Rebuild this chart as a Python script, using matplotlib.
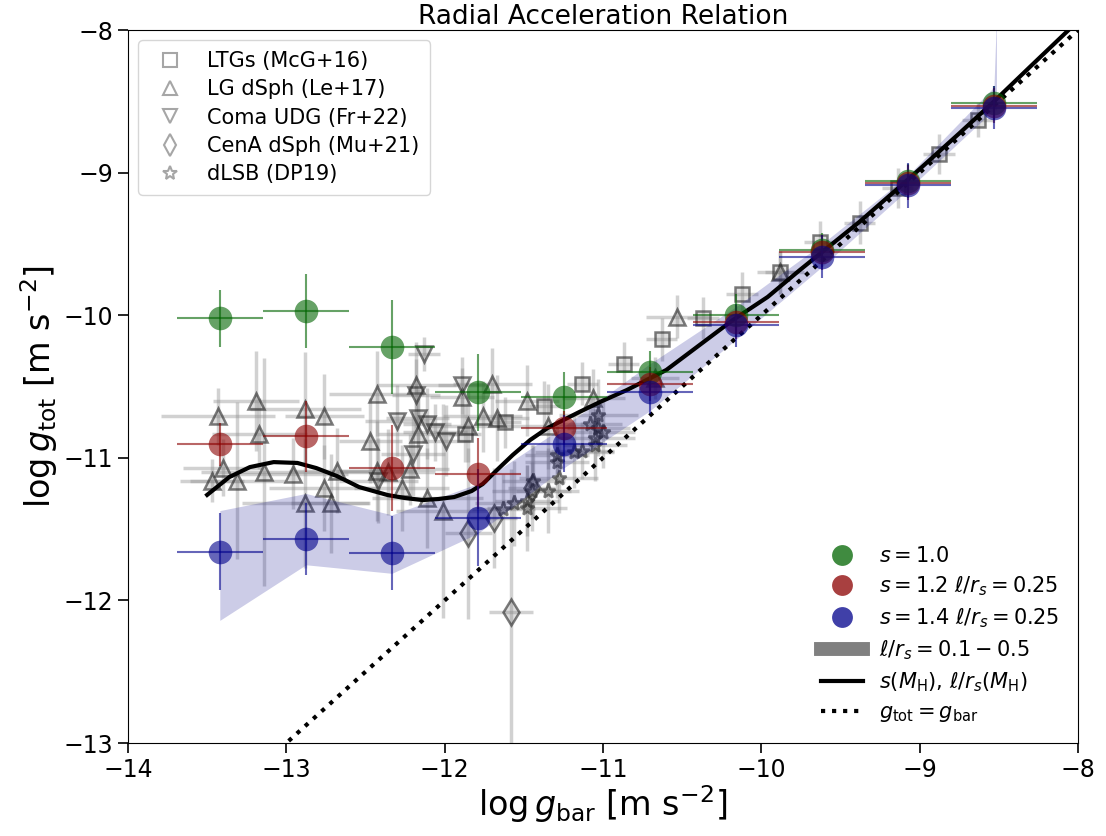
import matplotlib
matplotlib.use('Agg')
import matplotlib.pyplot as plt
from matplotlib.lines import Line2D

# bin centres of the model points
bins = [-13.42, -12.876, -12.333, -11.79, -11.247, -10.704, -10.16, -9.617, -9.074, -8.531]
bin_xerr = 0.27

g_s10 = [-10.02, -9.97, -10.22, -10.54, -10.57, -10.40, -10.00, -9.54, -9.06, -8.51]
g_s10_err = [0.20, 0.26, 0.33, 0.27, 0.17, 0.15, 0.15, 0.12, 0.12, 0.12]
g_s12 = [-10.905, -10.85, -11.07, -11.11, -10.79, -10.48, -10.05, -9.56, -9.07, -8.53]
g_s12_err = [0.15, 0.25, 0.30, 0.25, 0.12, 0.12, 0.12, 0.12, 0.12, 0.12]
g_s14 = [-11.66, -11.57, -11.67, -11.42, -10.90, -10.54, -10.07, -9.59, -9.09, -8.545]
g_s14_err = [0.27, 0.25, 0.26, 0.34, 0.20, 0.15, 0.15, 0.15, 0.16, 0.15]

# l/rs = 0.1 - 0.5 band for s = 1.4
band_x = bins + [-8.515]
band_lo = [-12.14, -11.75, -11.81, -11.53, -11.07, -10.67, -10.17, -9.66, -9.12, -8.56, -8.56]
band_hi = [-11.37, -11.25, -11.40, -11.18, -10.78, -10.34, -9.94, -9.50, -9.02, -8.40, -7.90]

# s(M_H), l/rs(M_H) curve
curve_x = [-13.50, -13.36, -13.23, -13.08, -12.93, -12.81, -12.68, -12.54, -12.36, -12.25,
           -12.14, -12.04, -11.94, -11.83, -11.76, -11.67, -11.57, -11.46, -11.35, -11.25,
           -11.15, -11.02, -10.85, -10.60, -10.39, -10.18, -9.96, -9.76, -9.38, -9.08,
           -8.75, -8.53, -8.30, -8.05]
curve_y = [-11.26, -11.135, -11.065, -11.03, -11.036, -11.072, -11.128, -11.205, -11.261, -11.282,
           -11.296, -11.289, -11.275, -11.233, -11.184, -11.086, -10.98, -10.875, -10.791, -10.735,
           -10.679, -10.609, -10.525, -10.384, -10.209, -10.034, -9.872, -9.686, -9.345, -9.055,
           -8.725, -8.50, -8.255, -7.99]

# LTGs (McGaugh+16)
ltg_x = [-8.63, -8.88, -9.14, -9.38, -9.63, -9.88, -10.12, -10.37, -10.63, -10.87, -11.13, -11.37, -11.62, -11.87]
ltg_y = [-8.63, -8.87, -9.11, -9.35, -9.49, -9.70, -9.85, -10.02, -10.17, -10.34, -10.48, -10.64, -10.75, -10.83]
ltg_xerr = [0.10] * 14
ltg_yerr = [0.12, 0.14, 0.14, 0.15, 0.15, 0.15, 0.15, 0.15, 0.15, 0.15, 0.15, 0.18, 0.18, 0.20]

# LG dSph (Lelli+17)
lg_x = [-13.43, -13.19, -13.17, -12.88, -12.76, -13.40, -13.47, -13.31, -13.14, -12.96,
        -12.68, -12.76, -12.88, -12.72, -12.43, -12.47, -12.43, -12.36, -12.22, -12.27,
        -12.11, -12.01, -12.18, -11.89, -11.85, -11.76, -11.67, -11.70, -12.17, -11.48,
        -11.35, -11.06, -10.53, -9.88, -10.67]
lg_y = [-10.71, -10.60, -10.83, -10.66, -10.71, -11.07, -11.16, -11.16, -11.10, -11.11,
        -11.09, -11.21, -11.32, -11.32, -10.55, -10.88, -11.09, -11.10, -11.08, -11.21,
        -11.28, -11.37, -10.49, -10.57, -10.78, -10.71, -10.72, -10.48, -10.83, -10.60,
        -10.78, -10.58, -10.01, -9.70, -10.44]
lg_xerr = [0.36, 0.27, 0.30, 0.35, 0.25, 0.25, 0.20, 0.30, 0.40, 0.35,
           0.30, 0.35, 0.40, 0.25, 0.30, 0.20, 0.25, 0.30, 0.25, 0.30,
           0.35, 0.30, 0.25, 0.20, 0.25, 0.25, 0.20, 0.25, 0.25, 0.20,
           0.25, 0.20, 0.20, 0.15, 0.15]
lg_yerr = [0.20, 0.35, 0.25, 0.40, 0.30, 0.20, 0.15, 0.55, 0.80, 0.25,
           0.30, 0.30, 0.45, 0.35, 0.30, 0.30, 0.35, 0.30, 0.25, 0.30,
           0.35, 0.75, 0.30, 0.20, 0.25, 0.25, 0.30, 0.25, 0.25, 0.25,
           0.30, 0.20, 0.15, 0.15, 0.15]

# Coma UDG (Freundlich+22)
udg_x = [-12.13, -11.89, -12.18, -12.30, -12.17, -12.11, -12.06, -11.99, -12.20, -12.42]
udg_y = [-10.27, -10.49, -10.56, -10.74, -10.72, -10.76, -10.82, -10.88, -10.97, -11.16]
udg_xerr = [0.10, 0.15, 0.15, 0.20, 0.20, 0.15, 0.20, 0.15, 0.20, 0.25]
udg_yerr = [0.12, 0.20, 0.25, 0.25, 0.20, 0.25, 0.20, 0.25, 0.30, 0.30]

# CenA dSph (Mueller+21)
cen_x = [-11.85, -11.69, -11.45, -11.58]
cen_y = [-11.53, -11.42, -11.21, -12.08]
cen_xerr = [0.15, 0.15, 0.15, 0.14]
cen_yerr = [0.60, 0.35, 0.30, 1.00]

# dLSB (DP19)
lsb_x = [-11.63, -11.56, -11.48, -11.48, -11.44, -11.45, -11.35, -11.29, -11.28, -11.29,
         -11.18, -11.13, -11.05, -11.08, -11.03, -11.03, -11.00, -11.05]
lsb_y = [-11.36, -11.32, -11.30, -11.35, -11.16, -11.23, -11.23, -11.03, -11.14, -10.98,
         -10.96, -10.95, -10.91, -10.76, -10.70, -10.79, -10.82, -10.86]
lsb_xerr = [0.20, 0.25, 0.20, 0.25, 0.20, 0.25, 0.20, 0.20, 0.25, 0.20,
            0.25, 0.20, 0.20, 0.20, 0.25, 0.20, 0.20, 0.25]
lsb_yerr = [0.25, 0.30, 0.25, 0.30, 0.25, 0.20, 0.30, 0.25, 0.25, 0.20,
            0.25, 0.20, 0.25, 0.20, 0.25, 0.20, 0.25, 0.20]

fig = plt.figure(figsize=(11.06, 8.36), dpi=100)
ax = fig.add_axes([0.1157, 0.1112, 0.8590, 0.8529])

ecol = (0.55, 0.55, 0.55, 0.4)
mec = (0.15, 0.15, 0.15, 0.6)
mfc = (0.5, 0.5, 0.5, 0.25)

def grey(x, y, xe, ye, m, ms):
    ax.errorbar(x, y, xerr=xe, yerr=ye, fmt=m, ms=ms, mfc=mfc, mec=mec, mew=1.8,
                ecolor=ecol, elinewidth=2.5, capsize=0, zorder=2)

grey(ltg_x, ltg_y, ltg_xerr, ltg_yerr, 's', 10)
grey(lg_x, lg_y, lg_xerr, lg_yerr, '^', 11)
grey(udg_x, udg_y, udg_xerr, udg_yerr, 'v', 11)
grey(cen_x, cen_y, cen_xerr, cen_yerr, 'd', 13)
grey(lsb_x, lsb_y, lsb_xerr, lsb_yerr, '*', 11)

ax.fill_between(band_x, band_lo, band_hi, color='darkblue', alpha=0.2, lw=0, zorder=3)

ax.plot([-14, -8], [-14, -8], color='black', ls=':', lw=3, zorder=4)
ax.plot(curve_x, curve_y, color='black', lw=3, zorder=4)

for vals, errs, col in [(g_s10, g_s10_err, 'darkgreen'), (g_s12, g_s12_err, 'darkred'),
                        (g_s14, g_s14_err, 'darkblue')]:
    ax.errorbar(bins, vals, xerr=bin_xerr, yerr=errs, fmt='o', ms=17, color=col, alpha=0.6,
                elinewidth=1.5, capsize=0, mew=0, zorder=5)

ax.set_xlim(-14, -8)
ax.set_ylim(-13, -8)
ax.tick_params(labelsize=17, length=7, width=1.2)
ax.set_xlabel(r'$\log g_{\rm bar}$ [m s$^{-2}$]', fontsize=24, labelpad=1)
ax.set_ylabel(r'$\log g_{\rm tot}$ [m s$^{-2}$]', fontsize=24, labelpad=3)
ax.set_title('Radial Acceleration Relation', fontsize=19, pad=3)

h1 = [Line2D([], [], ls='', marker=m, ms=s, mfc='white', mec='grey', mew=1.5, alpha=0.7)
      for m, s in [('s', 10), ('^', 10), ('v', 10), ('d', 11), ('*', 10)]]
l1 = ['LTGs (McG+16)', 'LG dSph (Le+17)', 'Coma UDG (Fr+22)', 'CenA dSph (Mu+21)', 'dLSB (DP19)']
leg1 = ax.legend(h1, l1, loc='upper left', fontsize=15, labelspacing=0.4, borderpad=0.5)
ax.add_artist(leg1)

h2 = [Line2D([], [], ls='', marker='o', ms=15, color='darkgreen', alpha=0.75, mew=0),
      Line2D([], [], ls='', marker='o', ms=15, color='darkred', alpha=0.75, mew=0),
      Line2D([], [], ls='', marker='o', ms=15, color='darkblue', alpha=0.75, mew=0),
      Line2D([], [], color='grey', lw=10),
      Line2D([], [], color='black', lw=3),
      Line2D([], [], color='black', lw=3, ls=':')]
l2 = [r'$s=1.0$', r'$s=1.2$ $\ell/r_s=0.25$', r'$s=1.4$ $\ell/r_s=0.25$',
      r'$\ell/r_s=0.1-0.5$', r'$s(M_{\rm H})$, $\ell/r_s(M_{\rm H})$', r'$g_{\rm tot}=g_{\rm bar}$']
ax.legend(h2, l2, loc='lower right', fontsize=15, frameon=False, labelspacing=0.4)

fig.savefig('out.png', dpi=100)
